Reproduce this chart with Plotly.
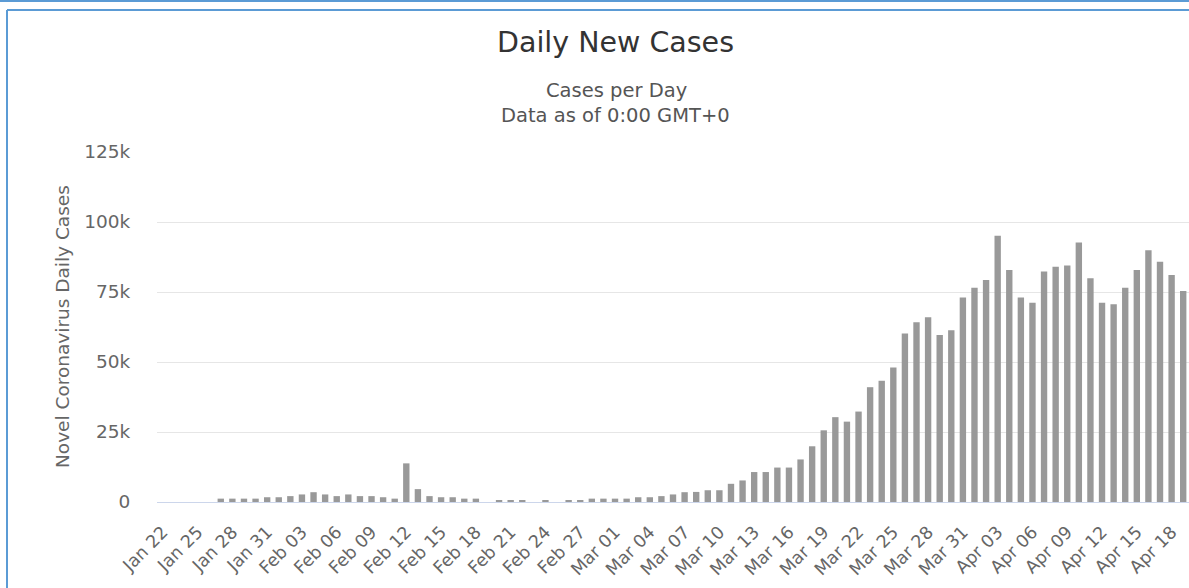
import plotly.graph_objects as go
import datetime as dt

# ---------------- data ----------------
start = dt.date(2020, 1, 22)
dates = [start + dt.timedelta(days=i) for i in range(89)]
categories = [d.strftime("%b %d") for d in dates]

daily_cases = [
    0, 0, 0, 0, 0,                              # Jan 22-26
    1200, 1200, 1200, 1200, 1700,               # Jan 27-31
    1700, 2100, 2700, 3500, 2700, 2100, 2700,   # Feb 01-07
    2100, 2100, 1700, 1200, 13800, 4600, 2100,  # Feb 08-14
    1700, 1700, 1200, 1200, 0, 600, 600,        # Feb 15-21
    600, 0, 600, 0, 600, 600, 1200, 1200,       # Feb 22-29
    1200, 1200, 1700, 1700, 2100, 2700, 3500,   # Mar 01-07
    3600, 4200, 4200, 6500, 7700, 10700, 10700, # Mar 08-14
    12300, 12300, 15200, 19900, 25600, 30300, 28700,  # Mar 15-21
    32300, 41000, 43300, 48000, 60200, 64200, 66000,  # Mar 22-28
    59600, 61300, 73000,                        # Mar 29-31
    76500, 79300, 95100, 82900, 73000, 71200, 82300,  # Apr 01-07
    84000, 84500, 92700, 79900, 71200, 70600, 76500,  # Apr 08-14
    82900, 89900, 85800, 81100, 75400,          # Apr 15-19
]

tick_labels = categories[::3]
y_tick_values = [0, 25000, 50000, 75000, 100000, 125000]
y_tick_text = ["0", "25k", "50k", "75k", "100k", "125k"]

title_text = "Daily New Cases"
subtitle_lines = ["Cases per Day", "Data as of 0:00 GMT+0"]
y_title = "Novel Coronavirus Daily Cases"

# ---------------- layout geometry ----------------
W, H = 1189, 588
ML, MR, MT, MB = 157, 0, 152, 86
PW, PH = W - ML - MR, H - MT - MB


def px_x(px):
    return (px - ML) / PW


def px_y(py):
    return (H - MB - py) / PH


FONT = "DejaVu Sans, Verdana, sans-serif"

fig = go.Figure(
    go.Bar(
        x=categories,
        y=daily_cases,
        marker=dict(color="#999999", line=dict(width=0)),
        name="Daily Cases",
    )
)

border = "#5b9bd5"
shapes = [
    dict(type="line", xref="paper", yref="paper", x0=px_x(0), x1=px_x(W),
         y0=px_y(1), y1=px_y(1), line=dict(color=border, width=2)),
    dict(type="line", xref="paper", yref="paper", x0=px_x(7), x1=px_x(W),
         y0=px_y(10), y1=px_y(10), line=dict(color=border, width=2)),
    dict(type="line", xref="paper", yref="paper", x0=px_x(7), x1=px_x(7),
         y0=px_y(10), y1=px_y(H), line=dict(color=border, width=2)),
]

annotations = [
    dict(text=title_text, xref="paper", yref="paper", x=px_x(615), y=px_y(42),
         showarrow=False, xanchor="center", yanchor="middle",
         font=dict(family=FONT, size=28.5, color="#333333")),
    dict(text=subtitle_lines[0], xref="paper", yref="paper", x=px_x(616), y=px_y(91),
         showarrow=False, xanchor="center", yanchor="middle",
         font=dict(family=FONT, size=19.5, color="#555555")),
    dict(text=subtitle_lines[1], xref="paper", yref="paper", x=px_x(615), y=px_y(115),
         showarrow=False, xanchor="center", yanchor="middle",
         font=dict(family=FONT, size=19.5, color="#555555")),
    dict(text=y_title, xref="paper", yref="paper", x=px_x(62), y=px_y(327),
         showarrow=False, xanchor="center", yanchor="middle", textangle=-90,
         font=dict(family=FONT, size=18.5, color="#666666")),
]

fig.update_layout(
    width=W, height=H,
    margin=dict(l=ML, r=MR, t=MT, b=MB, pad=0),
    paper_bgcolor="white", plot_bgcolor="white",
    showlegend=False,
    bargap=0.45,
    shapes=shapes,
    annotations=annotations,
    font=dict(family=FONT, color="#666666"),
)

fig.update_xaxes(
    type="category",
    categoryorder="array", categoryarray=categories,
    tickmode="array", tickvals=tick_labels, ticktext=tick_labels,
    tickangle=-45,
    tickfont=dict(family=FONT, size=17.5, color="#666666"),
    showline=True, linecolor="#ccd6eb", linewidth=1,
    showgrid=False, ticks="outside", ticklen=12, tickcolor="rgba(0,0,0,0)",
    range=[-0.5, 88.5],
)

fig.update_yaxes(
    range=[0, 125000],
    tickmode="array", tickvals=y_tick_values, ticktext=y_tick_text,
    tickfont=dict(family=FONT, size=18.5, color="#666666"),
    showgrid=True, gridcolor="#e6e6e6", gridwidth=1,
    zeroline=False, showline=False,
    ticks="outside", ticklen=22, tickcolor="rgba(0,0,0,0)",
)

fig.write_html("out.html", config={"displayModeBar": False},
               post_script="document.body.style.margin='0';")
